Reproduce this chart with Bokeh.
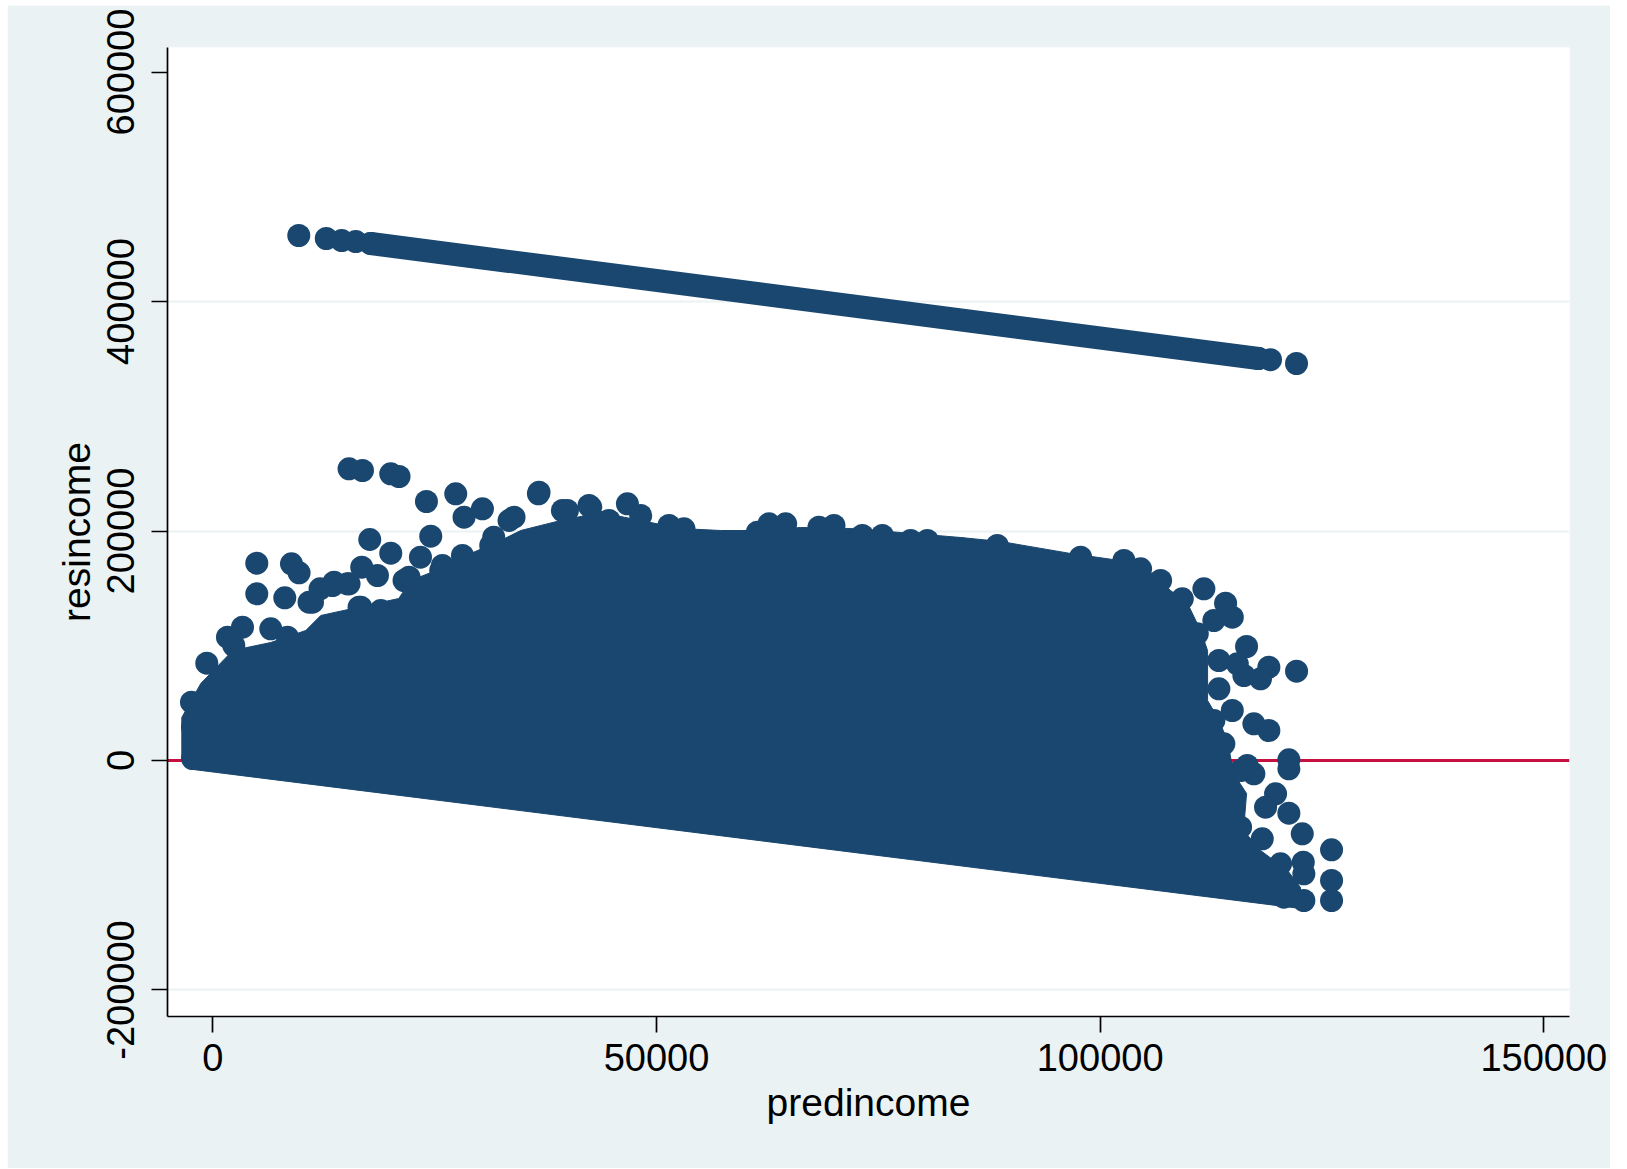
from bokeh.plotting import figure
from bokeh.models import FixedTicker, NumeralTickFormatter, Span
from bokeh.embed import file_html
from bokeh.resources import INLINE

# ---------------- data ----------------
x_ticks = [0, 50000, 100000, 150000]
y_ticks = [-200000, 0, 200000, 400000, 600000]
grid_ticks = [-200000, 200000, 400000]

# top-coded incomes: residuals along a descending band
top_x = [9690, 12790, 14530, 16110, 17800, 117850, 119200, 122130]
top_y = [457540, 454920, 453180, 452310, 450570, 350340, 349300, 345990]
# dense run of the band (continuous points between these ends)
top_run_x = [17800, 117850]
top_run_y = [450570, 350340]

# outline of the solid mass of points (visible edge)
blob_x = [-3490, -3493, -1352, 2253, 6535, 10478, 12168, 15774, 20957, 22309,
          26590, 29069, 32449, 34702, 39209, 43716, 48223, 52730, 57236, 61743,
          66250, 71883, 77517, 84277, 88784, 96671, 104558, 105685, 107938, 109853,
          111318, 112107, 112107, 113233, 114360, 115036, 116501, 116163, 118078, 121120,
          122585, 122585, -2250]
blob_y = [2000, 37475, 67106, 95865, 102837, 113295, 126368, 132468, 141183, 156870,
          169943, 180401, 191730, 200445, 209160, 216132, 209160, 202188, 200445, 200445,
          203060, 202188, 198702, 194345, 190859, 180401, 171686, 163842, 148155, 136826,
          113295, 95865, 52290, 37475, 17430, -11330, -28760, -61005, -78435, -95865,
          -110681, -128982, -7800]

# individual points standing out from the mass
left_x = [15357, 16867, 20055, 20990, 24078, 27379, 36697, 4957, 8867, 9724,
          4957, 8112, 17689, 20055, 24562, 23402, 28314, 30387, 16788, 18557,
          12090, 13667, 15357, 11233, 16675, 3346, 1656, 6535, 8416, -676,
          3346, -2400, -2287, -2287, 33948, 39401, 31660, 25880, 21554, 18929, 36956,
          33384, 36764, 42398, 36021, 41271, 44651, 28134, 31322, 25689, 22117,
          16484, 2366, 10850, 13487, 15177]
left_y = [254217, 252735, 249859, 247506, 225719, 232429, 232429, 171950, 171427, 163584,
          145279, 141793, 192602, 180662, 195474, 177174, 212036, 219357, 168462, 161228,
          149637, 155389, 153995, 137958, 133601, 116171, 107456, 114777, 107456, 84797,
          76954, 50808, 29021, 1743, 212036, 217875, 194603, 169943, 156870, 130725, 185891,
          209160, 233823, 222233, 188854, 185891, 209160, 178658, 187373, 165585, 159746,
          133601, 100223, 137958, 152513, 153994]

mid_x = [39964, 42589, 46724, 48223, 51411, 53101, 61371, 62678, 64560, 68312,
         70002, 73202, 75455, 78644, 80525, 84277, 88412, 97798, 102677, 104558, 44054]
mid_y = [217875, 220751, 223714, 213518, 204803, 201927, 198963, 206284, 206284, 203321,
         204803, 196088, 196088, 191730, 191730, 184497, 187373, 177176, 174300, 167067, 207678]

right_x = [111690, 109256, 114135, 114890, 112816, 116501, 119013, 118078, 122134, 113380,
           115453, 116197, 113380, 114890, 117323, 119013, 121267, 121267, 116580, 117323,
           119768, 118642, 121267, 122776, 126078, 118270, 122889, 126078, 126078, 122957,
           122957, 120332, 120703,
           110946, 112816, 113943, 115825, 115825, 106811]
right_y = [149637, 140922, 137087, 124886, 122010, 99351, 81311, 71202, 77825, 87150,
           84274, 74078, 62487, 43575, 31984, 26145, 610, -7233, -4358, -11591,
           -29021, -40699, -45928, -63881, -77825, -68238, -88632, -104580, -122010, -98741,
           -122010, -90026, -119134,
           110419, 34860, 14554, -8715, -58129, 156870]

# ---------------- styling ----------------
NAVY = "#1a476f"
BG = "#eaf2f3"
RED = "#c81040"
FONT = "Liberation Sans"

p = figure(width=1603, height=1163,
           x_range=(-5104, 152893), y_range=(-223104, 621380),
           output_backend="svg", toolbar_location=None,
           min_border_left=160, min_border_right=41,
           min_border_top=42, min_border_bottom=152,
           background_fill_color="white", border_fill_color=BG,
           outline_line_color=None)
p.margin = (5, 0, 0, 7)

p.xgrid.visible = False
p.ygrid.ticker = FixedTicker(ticks=grid_ticks)
p.ygrid.grid_line_color = BG
p.ygrid.grid_line_width = 2

p.add_layout(Span(location=0, dimension="width", line_color=RED,
                  line_width=3, level="underlay"))

p.xaxis.ticker = FixedTicker(ticks=x_ticks)
p.yaxis.ticker = FixedTicker(ticks=y_ticks)
for ax in (p.xaxis, p.yaxis):
    ax.formatter = NumeralTickFormatter(format="0")
    ax.minor_tick_line_color = None
    ax.major_tick_out = 16
    ax.major_tick_in = 0
    ax.axis_line_width = 1.7
    ax.axis_line_color = "black"
    ax.major_tick_line_width = 1.7
    ax.major_tick_line_color = "black"
    ax.major_label_text_font = FONT
    ax.major_label_text_font_size = "38px"
    ax.major_label_text_color = "black"
    ax.axis_label_text_font = FONT
    ax.axis_label_text_font_size = "39px"
    ax.axis_label_text_font_style = "normal"
    ax.axis_label_text_color = "black"

p.xaxis.axis_label = "predincome"
p.yaxis.axis_label = "resincome"
p.yaxis.major_label_orientation = "vertical"
p.xaxis.major_label_standoff = 11
p.yaxis.major_label_standoff = 17
p.xaxis.axis_label_standoff = 7
p.yaxis.axis_label_standoff = 7

# ---------------- marks ----------------
p.patch(blob_x, blob_y, fill_color=NAVY, line_color=NAVY, line_width=1)
p.line(top_run_x, top_run_y, line_color=NAVY, line_width=23, line_cap="round")
p.scatter(top_x, top_y, size=23, fill_color=NAVY, line_color=None)
p.scatter(left_x, left_y, size=23, fill_color=NAVY, line_color=None)
p.scatter(mid_x, mid_y, size=23, fill_color=NAVY, line_color=None)
p.scatter(right_x, right_y, size=23, fill_color=NAVY, line_color=None)

open("out.html", "w").write(file_html(p, INLINE))
